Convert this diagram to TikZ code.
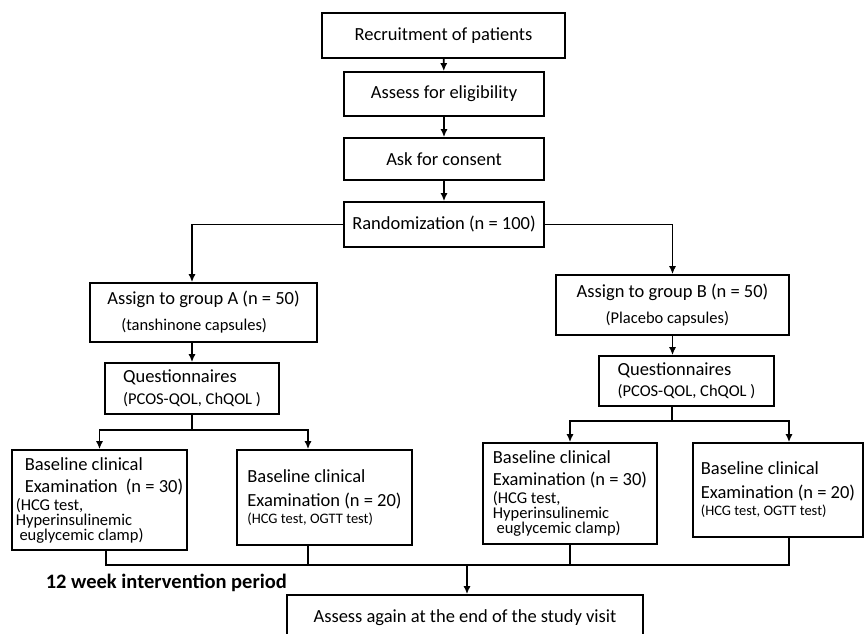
\documentclass[tikz,border=0pt]{standalone}
\usepackage{fontspec}
\setmainfont{Carlito}
\usetikzlibrary{arrows.meta}

\newcommand{\bigtxt}{\fontsize{18.5}{22}\selectfont}
\newcommand{\midtxt}{\fontsize{16.5}{22}\selectfont}
\newcommand{\smtxt}{\fontsize{14.5}{22}\selectfont}

\begin{document}
\begin{tikzpicture}[x=1pt,y=-1pt, line width=1.6pt,
  box/.style={draw, rectangle, inner sep=0pt, font=\bigtxt},
  lbox/.style={box, align=left},
  arr/.style={-{Latex[length=8pt,width=7pt]}}]

\useasboundingbox (0,0) rectangle (864,633);
\clip (0,0) rectangle (864,633);

% top column
\node [box, minimum width=243, minimum height=45] (rec) at (443.5,35.5) {Recruitment of patients};
\node [box, minimum width=200, minimum height=44] (elig) at (444,94) {Assess for eligibility};
\node [box, minimum width=200, minimum height=42] (cons) at (444,159) {Ask for consent};
\node [box, minimum width=200, minimum height=45] (rand) at (444,224.5) {Randomization (n = 100)};

% groups
\node [lbox, minimum width=227, minimum height=59] (grpA) at (203.5,312.5)
  {Assign to group A (n = 50)\\[4pt]\hspace*{14pt}{\midtxt (tanshinone capsules)}};
\node [lbox, minimum width=233, minimum height=60] (grpB) at (672.5,305)
  {Assign to group B (n = 50)\\[4pt]\hspace*{29pt}{\midtxt (Placebo capsules)}};

\node [lbox, minimum width=174, minimum height=51] (qA) at (192,388.5)
  {Questionnaires\\[0pt]{\midtxt (PCOS-QOL, ChQOL )}};
\node [lbox, minimum width=175, minimum height=50] (qB) at (686.5,381)
  {Questionnaires\\[-1pt]{\midtxt (PCOS-QOL, ChQOL )}};

% baseline examinations
\node [lbox, minimum width=175, minimum height=100] (exA1) at (99.5,500)
  {\hspace*{9pt}Baseline clinical\\\hspace*{9pt}Examination~ (n = 30)\\[-4pt]{\midtxt (HCG test,}\\[-7pt]{\midtxt Hyperinsulinemic}\\[-7pt]{\midtxt \ euglycemic clamp)}};
\node [lbox, minimum width=175, minimum height=95] (exA2) at (324.5,497.5)
  {Baseline clinical\\[2pt]Examination (n = 20)\\[-5pt]{\smtxt (HCG test, OGTT test)}};
\node [lbox, minimum width=174, minimum height=101] (exB1) at (570,493.5)
  {Baseline clinical\\Examination (n = 30)\\[-4pt]{\midtxt (HCG test,}\\[-7pt]{\midtxt Hyperinsulinemic}\\[-7pt]{\midtxt \ euglycemic clamp)}};
\node [lbox, minimum width=170, minimum height=94] (exB2) at (778,490)
  {Baseline clinical\\[2pt]Examination (n = 20)\\[-5pt]{\smtxt (HCG test, OGTT test)}};

\node [anchor=west, inner sep=0pt, font=\bfseries\fontsize{20.5}{22}\selectfont] (wk) at (45,583) {12 week intervention period};
\node [box, minimum width=356, minimum height=46] (fin) at (465,618) {Assess again at the end of the study visit};

\coordinate (jA) at (192,430);
\coordinate (jB) at (672,421);
\coordinate (join) at (467,565);

% connectors
\draw [arr] (rec) -- (elig);
\draw [arr] (elig) -- (cons);
\draw [arr] (cons) -- (rand);
\draw [arr] (rand.west) -| (qA.north |- grpA.north);
\draw [arr] (rand.east) -| (grpB.north);
\draw [arr] (qA.north |- grpA.south) -- (qA.north);
\draw [arr] (grpB.south) -- (grpB.south |- qB.north);

\draw (qA.south) -- (jA);
\draw [arr] (jA) -| (exA1.north);
\draw [arr] (jA) -| ([xshift=-16.5pt]exA2.north);
\draw (jB |- qB.south) -- (jB);
\draw [arr] (jB) -| (exB1.north);
\draw [arr] (jB) -| ([xshift=11pt]exB2.north);

\draw ([xshift=6.5pt]exA1.south) |- (join);
\draw ([xshift=11pt]exB2.south) |- (join);
\draw ([xshift=-16.5pt]exA2.south) -- ([xshift=-16.5pt]exA2.south |- join);
\draw (exB1.south) -- (exB1.south |- join);
\draw [arr] (join) -- (join |- fin.north);

\end{tikzpicture}
\end{document}
